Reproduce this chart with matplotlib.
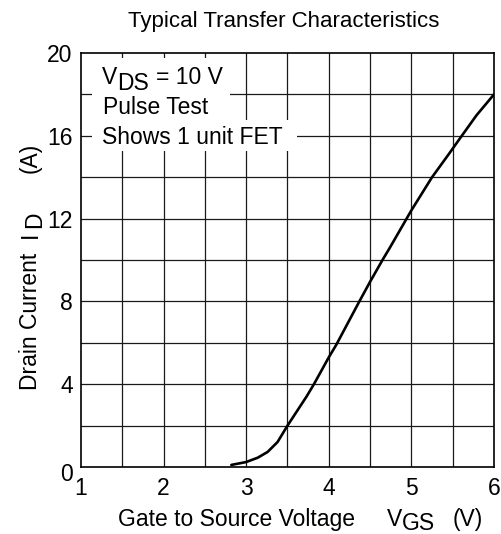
"""Typical transfer characteristics of the FET."""
import matplotlib
matplotlib.use('Agg')
import matplotlib.pyplot as plt
from matplotlib.patches import Rectangle
from matplotlib.transforms import ScaledTranslation

plt.rcParams['font.family'] = ['Liberation Sans', 'DejaVu Sans']

# data
vgs = [2.82, 3.0, 3.14, 3.26, 3.38, 3.5, 3.61, 3.73, 3.82, 4.0, 4.09,
       4.37, 4.5, 4.65, 4.74, 5.0, 5.25, 5.45, 5.61, 5.79, 6.0]
i_d = [0.1, 0.24, 0.45, 0.73, 1.21, 2.0, 2.67, 3.4, 4.0, 5.3, 5.9,
       8.0, 8.95, 10.0, 10.6, 12.4, 14.0, 15.1, 16.0, 17.0, 18.0]

x_ticks = [1, 2, 3, 4, 5, 6]
y_ticks = [0, 4, 8, 12, 16, 20]

W, H = 502, 534
FS = 16.5


def px(x, y):
    """pixel position (from top left) to figure fraction"""
    return x / W, 1 - y / H


fig = plt.figure(figsize=(W / 100, H / 100), dpi=100)
ax = fig.add_axes([81 / W, 1 - 467 / H, 413 / W, 414 / H])

ax.set_xlim(1, 6)
ax.set_ylim(0, 20)

# grid every 0.5 V and 2 A
for gx in [1 + 0.5 * k for k in range(1, 10)]:
    ax.axvline(gx, color='#1a1a1a', lw=0.9, zorder=1)
for gy in range(2, 20, 2):
    ax.axhline(gy, color='#1a1a1a', lw=0.9, zorder=1)

# white areas behind the notes (axes fraction)
ax.add_patch(Rectangle(((92 - 81) / 413, (467 - 121) / 414), 138 / 413, 63 / 414,
                       transform=ax.transAxes, facecolor='white',
                       edgecolor='none', zorder=2))
ax.add_patch(Rectangle(((92 - 81) / 413, (467 - 151) / 414), 205 / 413, 31 / 414,
                       transform=ax.transAxes, facecolor='white',
                       edgecolor='none', zorder=2))

# notes, subscripts drawn as lowered text of the same size
txt = dict(fontsize=FS, va='baseline', ha='left', zorder=3)
fig.text(*px(102, 84.5), 'V', **txt)
fig.text(*px(117, 90), 'DS', **txt)
fig.text(*px(156, 84.5), '= 10 V', **txt)
fig.text(*px(103, 114.5), 'Pulse Test', **txt)
fig.text(*px(102, 143.5), 'Shows 1 unit FET', **txt)

ax.plot(vgs, i_d, color='black', lw=1.9, zorder=4,
        solid_capstyle='round', solid_joinstyle='round')

ax.set_xticks(x_ticks)
ax.set_yticks(y_ticks)
ax.tick_params(length=0, labelsize=FS)
ax.tick_params(axis='x', pad=7)
ax.tick_params(axis='y', pad=6)
lbl0 = ax.get_yticklabels()[0]
lbl0.set_transform(lbl0.get_transform()
                   + ScaledTranslation(0, -5 / 100, fig.dpi_scale_trans))

for sp in ax.spines.values():
    sp.set_linewidth(1.2)
    sp.set_zorder(5)

# x axis label
fig.text(*px(118, 526), 'Gate to Source Voltage', **txt)
fig.text(*px(387, 526), 'V', **txt)
fig.text(*px(402, 530.5), 'GS', **txt)
fig.text(*px(453, 526), '(V)', **txt)

# y axis label, reading upwards
rot = dict(fontsize=FS, va='baseline', ha='left', rotation=90,
           rotation_mode='anchor')
fig.text(*px(37, 390), 'Drain Current', **rot)
fig.text(*px(37, 238), 'I', **rot)
fig.text(*px(41.5, 228), 'D', **rot)
fig.text(*px(37, 173), '(A)', **rot)

fig.text(*px(284, 26.5), 'Typical Transfer Characteristics',
         fontsize=16, ha='center', va='baseline')

fig.savefig('out.png', dpi=100)
